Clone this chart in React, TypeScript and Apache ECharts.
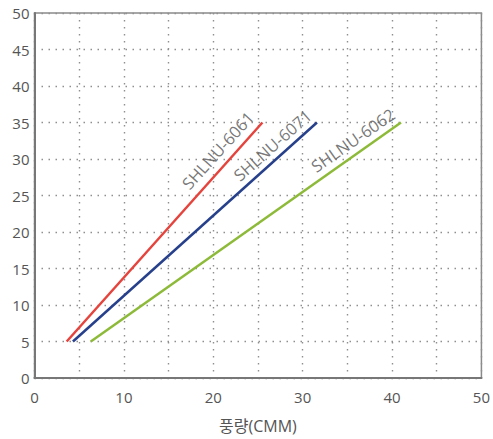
import React, { useEffect, useRef } from "react";
import * as echarts from "echarts";

const seriesNames = ["SHLNU-6061", "SHLNU-6071", "SHLNU-6062"];
const seriesColors = ["#e5443d", "#27408b", "#8dba38"];
// [flow (CMM), pressure] start and end of each line
const line6061 = [[3.6, 5], [25.5, 35]];
const line6071 = [[4.3, 5], [31.6, 35]];
const line6062 = [[6.3, 5], [41.0, 35]];
// label anchor points (data coords) and angles
const labelPoints = [[20.5, 31.2], [26.6, 31.9], [35.6, 32.6]];
const labelAngles = [47.8, 41.5, 34.8];
const xTickLabels = [0, 10, 20, 30, 40, 50];
const yTickLabels = [0, 5, 10, 15, 20, 25, 30, 35, 40, 45, 50];

export default function App() {
  const ref = useRef<HTMLDivElement>(null);
  useEffect(() => {
    if (!ref.current) return;
    const chart = echarts.init(ref.current, undefined, { renderer: "svg" });
    const font = "'Open Sans', 'Noto Sans', 'Noto Sans CJK KR', sans-serif";
    const lines = [line6061, line6071, line6062];
    const series: any[] = lines.map((d, i) => ({
      type: "line",
      name: seriesNames[i],
      data: d,
      symbol: "none",
      lineStyle: { color: seriesColors[i], width: 2.5 },
      z: 3,
    }));
    labelPoints.forEach((p, i) => {
      series.push({
        type: "scatter",
        data: [p],
        symbolSize: 0,
        silent: true,
        label: {
          show: true,
          position: "inside",
          formatter: seriesNames[i],
          rotate: labelAngles[i],
          color: "#555",
          fontSize: 16.5,
          fontFamily: font,
        },
        z: 4,
      });
    });
    const dots = { color: "#8f8f8f", width: 1.4, type: [1.5, 5.5] };
    chart.setOption({
      animation: false,
      grid: {
        left: 34.5,
        right: 5,
        top: 13,
        bottom: 61,
        show: true,
        borderColor: "#8a8a8a",
        borderWidth: 1.5,
      },
      xAxis: {
        type: "value",
        min: 0,
        max: 50,
        interval: 5,
        name: "풍량(CMM)",
        nameLocation: "middle",
        nameGap: 40,
        nameTextStyle: { color: "#555", fontSize: 16, fontFamily: font },
        axisLine: { show: true, lineStyle: { color: "#777", width: 2 } },
        axisTick: { show: false },
        axisLabel: {
          color: "#555",
          fontSize: 15,
          fontFamily: font,
          margin: 11,
          formatter: (v: number) => (xTickLabels.indexOf(v) >= 0 ? String(v) : ""),
        },
        splitLine: { show: true, lineStyle: dots },
      },
      yAxis: {
        type: "value",
        min: 0,
        max: 50,
        interval: 5,
        axisLine: { show: true, lineStyle: { color: "#777", width: 2 } },
        axisTick: { show: false },
        axisLabel: {
          color: "#555",
          fontSize: 15,
          fontFamily: font,
          margin: 5,
          formatter: (v: number) => (yTickLabels.indexOf(v) >= 0 ? String(v) : ""),
        },
        splitLine: { show: true, lineStyle: dots },
      },
      series,
    });
    return () => chart.dispose();
  }, []);
  return (
    <div
      ref={ref}
      style={{ position: "fixed", left: 0, top: 0, width: 493, height: 439, background: "#fff" }}
    />
  );
}
